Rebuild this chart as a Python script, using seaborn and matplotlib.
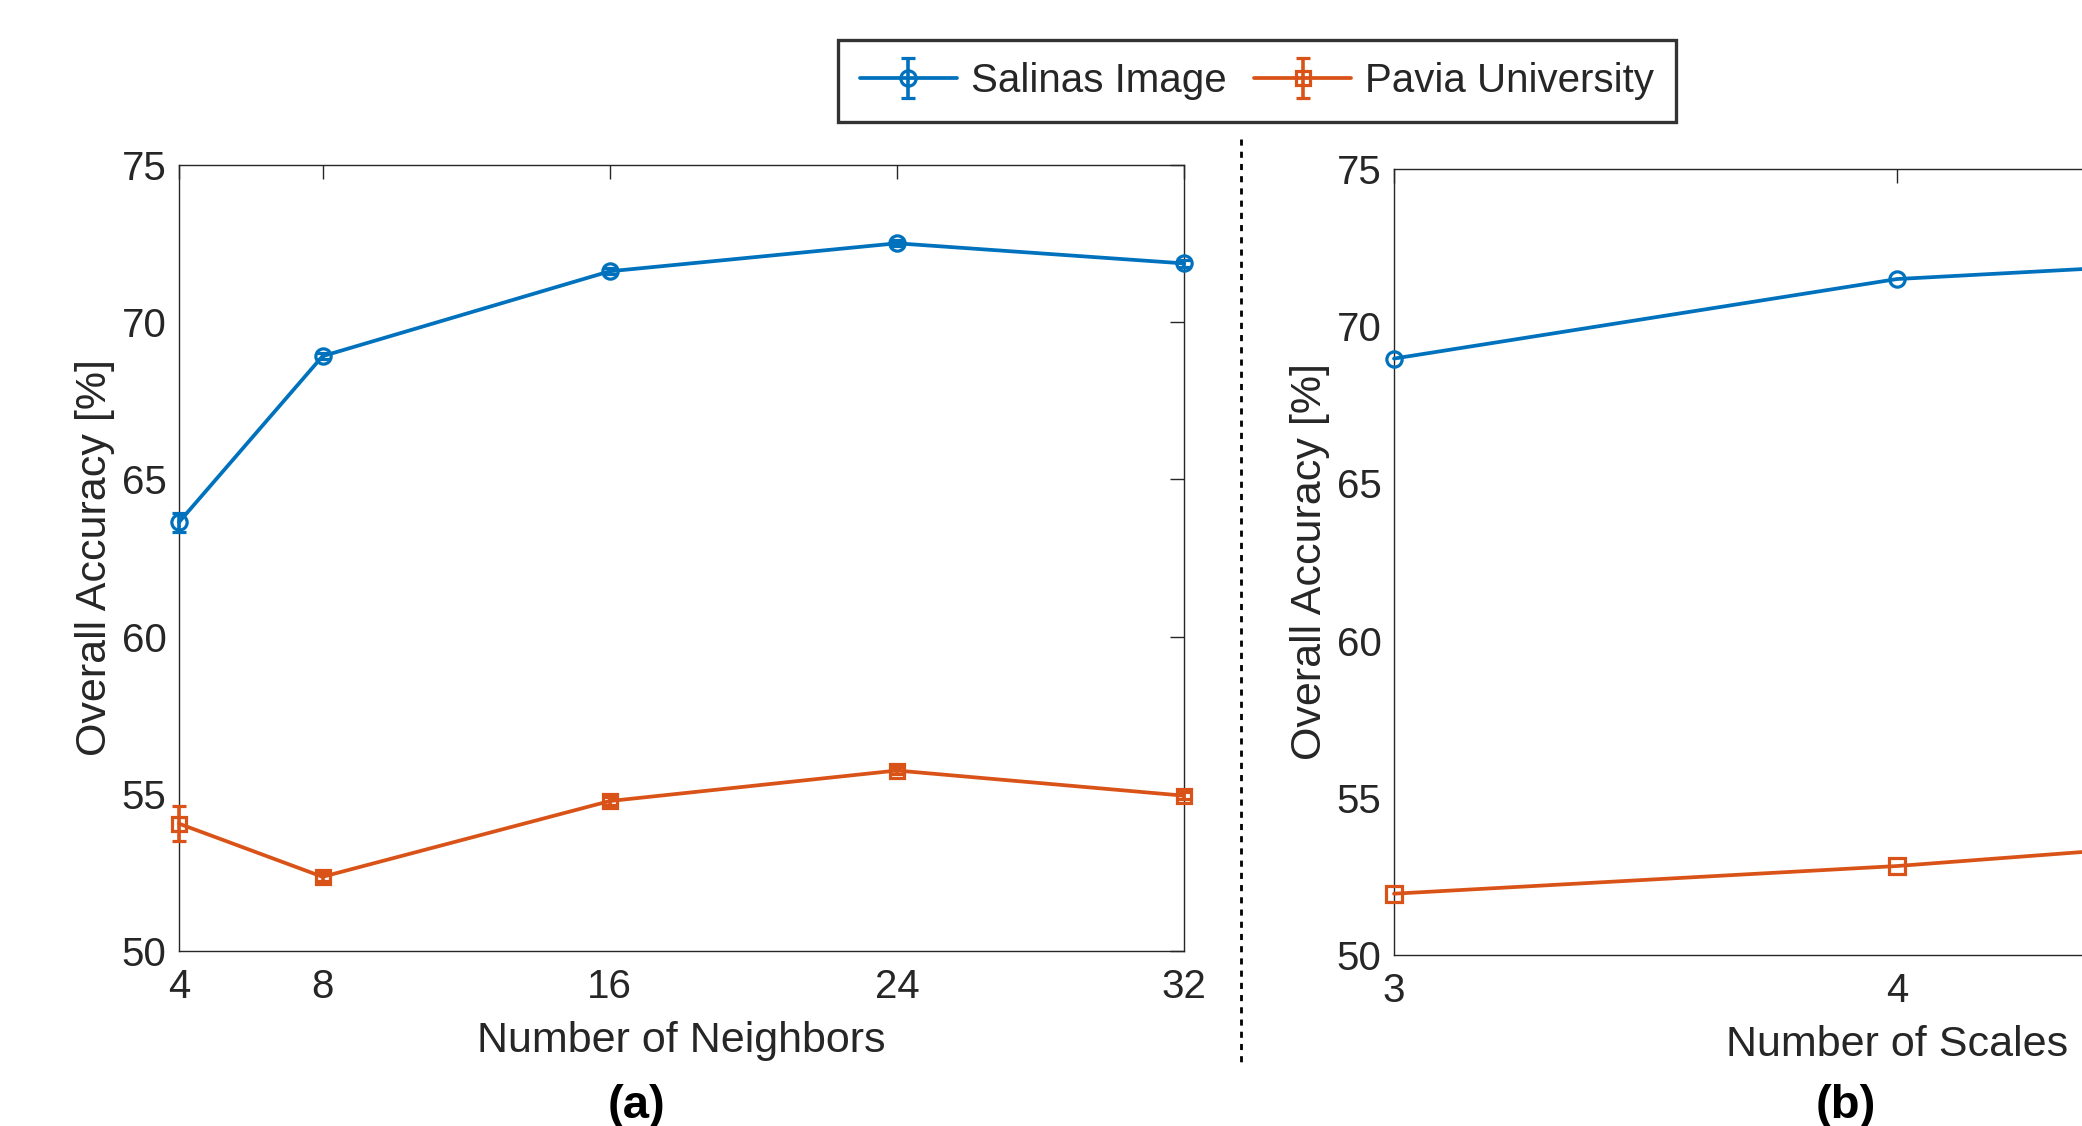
import numpy as np
import pandas as pd
import matplotlib
matplotlib.use("Agg")
import matplotlib.pyplot as plt
from matplotlib.lines import Line2D
import seaborn as sns

# ---- data -------------------------------------------------------------
neighbors = [4, 8, 16, 24, 32]
salinas_nb = [63.64, 68.92, 71.62, 72.51, 71.87]
salinas_nb_err = [0.30, 0.10, 0.10, 0.10, 0.10]
pavia_nb = [54.05, 52.36, 54.77, 55.74, 54.94]
pavia_nb_err = [0.55, 0.12, 0.12, 0.12, 0.12]

scales = [3, 4, 5]
salinas_sc = [68.97, 71.50, 72.36]
pavia_sc = [51.95, 52.83, 54.04]

series_names = ["Salinas Image", "Pavia University"]
c_blue = "#0072BD"
c_orange = "#D95319"
ink = "#262626"

sns.set_theme(style="white")
plt.rcParams["font.family"] = ["Liberation Sans", "DejaVu Sans"]

W, H = 2082, 1126
fig = plt.figure(figsize=(W / 100, H / 100), dpi=100)

def px_axes(x0, y0, x1, y1):
    return fig.add_axes([x0 / W, 1 - y1 / H, (x1 - x0) / W, (y1 - y0) / H])

ax1 = px_axes(179, 165, 1184, 951)
ax2 = px_axes(1394, 169, 2400, 955)

lw = 2.7
mew = 2.3

# (a) accuracy vs number of neighbours, with error bars
h_sal = ax1.errorbar(neighbors, salinas_nb, yerr=salinas_nb_err, color=c_blue,
                     lw=lw, marker="o", ms=11, mfc="none", mew=mew,
                     capsize=5, capthick=2.6, elinewidth=2.6,
                     label=series_names[0], zorder=3, clip_on=False)
h_pav = ax1.errorbar(neighbors, pavia_nb, yerr=pavia_nb_err, color=c_orange,
                     lw=lw, marker="s", ms=10, mfc="none", mew=mew,
                     capsize=5, capthick=2.6, elinewidth=2.6,
                     label=series_names[1], zorder=3, clip_on=False)

# (b) accuracy vs number of scales
df_sc = pd.DataFrame({
    "scales": scales * 2,
    "acc": salinas_sc + pavia_sc,
    "dataset": [series_names[0]] * len(scales) + [series_names[1]] * len(scales),
})
sns.lineplot(data=df_sc, x="scales", y="acc", hue="dataset", style="dataset",
             palette={series_names[0]: c_blue, series_names[1]: c_orange},
             markers={series_names[0]: "o", series_names[1]: "s"}, dashes=False,
             lw=lw, ms=11, mew=mew, legend=False, ax=ax2, zorder=3,
             clip_on=False)
for ln, col in zip(ax2.lines, [c_blue, c_orange]):
    ln.set_markeredgecolor(col)
    ln.set_markerfacecolor("none")

for ax, xt, xl in [(ax1, neighbors, "Number of Neighbors"),
                   (ax2, scales, "Number of Scales")]:
    ax.set_xlim(xt[0], xt[-1])
    ax.set_ylim(50, 75)
    ax.set_xticks(xt)
    ax.set_yticks([50, 55, 60, 65, 70, 75])
    ax.tick_params(direction="in", length=10, width=1.0, colors=ink,
                   labelsize=29, top=True, right=True, pad=12)
    ax.tick_params(axis="y", pad=9)
    for s in ax.spines.values():
        s.set_color(ink)
        s.set_linewidth(1.0)
    ax.set_xlabel(xl, fontsize=31, color=ink, labelpad=11)
    ax.set_ylabel("Overall Accuracy [%]", fontsize=31, color=ink, labelpad=5)
    ax.grid(False)
    ax.set_facecolor("white")

# the last scale tick sits past the figure edge
ax2.get_xticklabels()[-1].set_visible(False)

fig.text(637 / W, 1 - 1106 / H, "(a)", ha="center", va="center",
         fontsize=34, fontweight="bold", color="black")
fig.text(1846 / W, 1 - 1106 / H, "(b)", ha="center", va="center",
         fontsize=34, fontweight="bold", color="black")

# dashed separator between the two panels
fig.add_artist(Line2D([1241 / W, 1241 / W], [1 - 139 / H, 1 - 1066 / H],
                      transform=fig.transFigure, color="black", lw=2.0,
                      linestyle=(0, (2.2, 2.2))))

leg = fig.legend([h_sal, h_pav], series_names, loc="center",
                 bbox_to_anchor=(1257 / W, 1 - 81 / H), ncol=2,
                 fontsize=29, frameon=True, fancybox=False,
                 handlelength=2.4, columnspacing=0.7, handletextpad=0.35,
                 borderpad=0.55, borderaxespad=0.3)
leg.get_frame().set_edgecolor("black")
leg.get_frame().set_linewidth(2.4)

fig.savefig("out.png", dpi=100, facecolor="white")
